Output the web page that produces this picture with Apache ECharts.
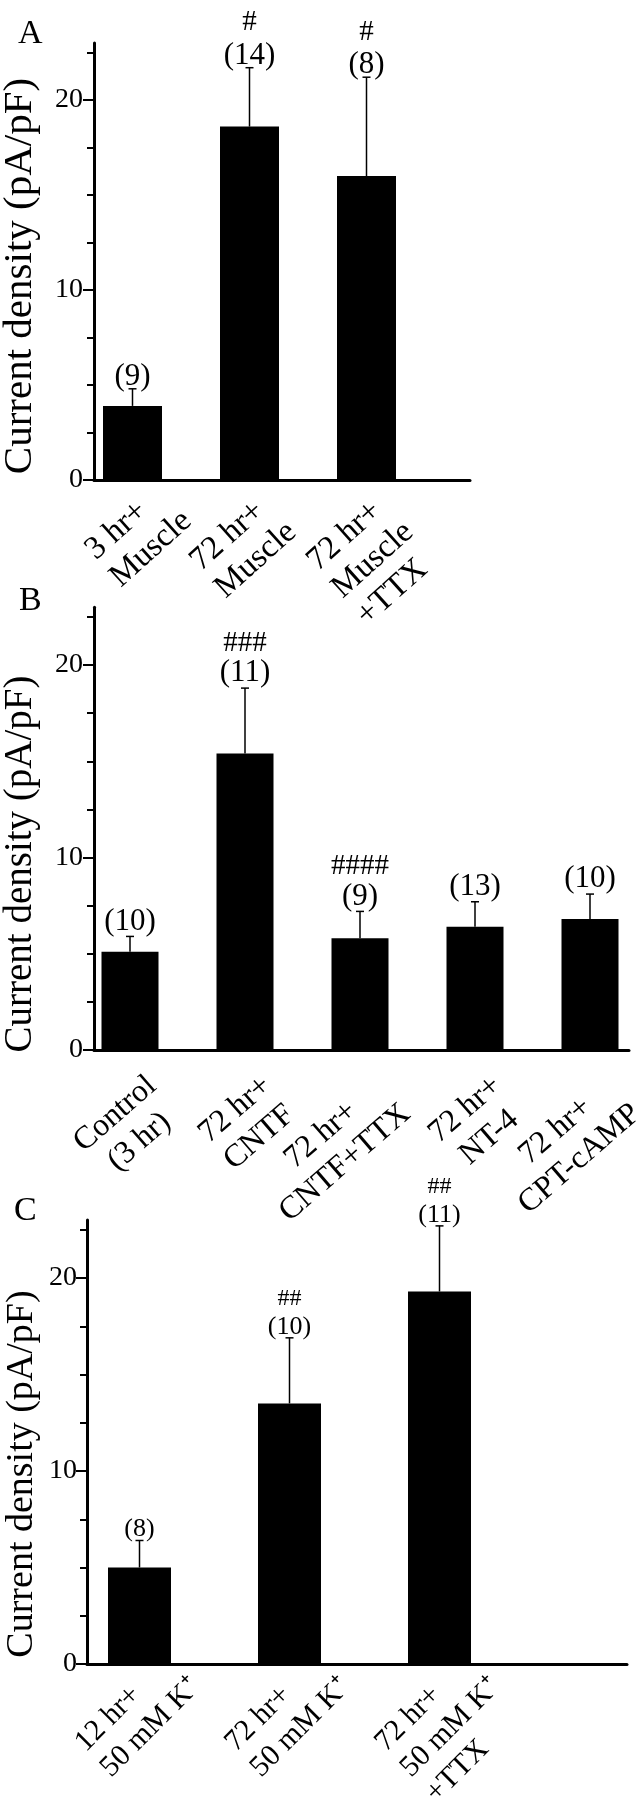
<!DOCTYPE html>
<html>
<head>
<meta charset="utf-8">
<script src="https://cdn.jsdelivr.net/npm/echarts@6/dist/echarts.min.js"></script>
<style>
  html, body { margin: 0; padding: 0; background: #fff; }
  #chart { width: 638px; height: 1800px; }
</style>
</head>
<body>
<div id="chart"></div>
<script>
// Panel A
const catsA = ['3 hr+\nMuscle', '72 hr+\nMuscle', '72 hr+\nMuscle\n+TTX'];
const meanA = [3.9, 18.6, 16.0];
const semA = [0.9, 3.1, 5.2];
const nA = [9, 14, 8];
const sigA = ['', '#', '#'];

// Panel B
const catsB = ['Control\n(3 hr)', '72 hr+\nCNTF', '72 hr+\nCNTF+TTX', '72 hr+\nNT-4', '72 hr+\nCPT-cAMP'];
const meanB = [5.1, 15.4, 5.8, 6.4, 6.8];
const semB = [0.8, 3.4, 1.4, 1.3, 1.3];
const nB = [10, 11, 9, 13, 10];
const sigB = ['', '###', '####', '', ''];

// Panel C
const catsC = ['12 hr+\n50 mM K\u207A', '72 hr+\n50 mM K\u207A', '72 hr+\n50 mM K\u207A\n+TTX'];
const meanC = [5.0, 13.5, 19.3];
const semC = [1.4, 3.4, 3.4];
const nC = [8, 10, 11];
const sigC = ['', '##', '##'];

// shared y axis
const yMax = 23;
const yMajor = [0, 10, 20];
const yMinor = [2.5, 5, 7.5, 12.5, 15, 17.5, 22.5];
const yName = 'Current density (pA/pF)';

const FONT = '"Liberation Serif", "Times New Roman", serif';

// layout of each panel (pixels)
const panels = [
  { letter: 'A', cats: catsA, mean: meanA, sem: semA, n: nA, sig: sigA,
    letterPos: [13, 12], left: 94, right: 470, zeroY: 480, unit: 19,
    firstX: 132.5, step: 117, barWidth: 59,
    rotate: 42, labelMargin: 13, labelSize: 33, labelLine: 1.12, labelShift: -2, lineAlign: 'left',
    nSize: 31, sigSize: 29, nLift: 12, sigGap: 33, tickSize: 28, tickMargin: 11,
    nameSize: 41, namePos: [20, 276] },
  { letter: 'B', cats: catsB, mean: meanB, sem: semB, n: nB, sig: sigB,
    letterPos: [14, 579], left: 94, right: 629, zeroY: 1050, unit: 19.25,
    firstX: 130, step: 115, barWidth: 57,
    rotate: 41, labelMargin: 18, labelSize: 32, labelLine: 1.15, labelShift: 10, lineAlign: 'center',
    nSize: 31, sigSize: 29, nLift: 15, sigGap: 30, tickSize: 28, tickMargin: 11,
    nameSize: 39, namePos: [21, 864] },
  { letter: 'C', cats: catsC, mean: meanC, sem: semC, n: nC, sig: sigC,
    letterPos: [9, 1189], left: 87, right: 627, zeroY: 1664, unit: 19.3,
    firstX: 139.5, step: 150, barWidth: 63,
    rotate: 45, labelMargin: 14, labelSize: 30, labelLine: 1.2, labelShift: -16, lineAlign: 'left',
    nSize: 26, sigSize: 24, nLift: 11, sigGap: 28, tickSize: 28, tickMargin: 10,
    nameSize: 38, namePos: [22, 1474] }
];

const measureCtx = document.createElement('canvas').getContext('2d');
const textWidth = (str, size) => {
  measureCtx.font = size + 'px ' + FONT;
  return measureCtx.measureText(str).width;
};

const chart = echarts.init(document.getElementById('chart'));

const option = {
  animation: false,
  backgroundColor: '#fff',
  title: [],
  graphic: [],
  grid: [],
  xAxis: [],
  yAxis: [],
  series: []
};

panels.forEach((p, k) => {
  const height = yMax * p.unit;
  const top = p.zeroY - height;

  // 'left': label hangs from the end of its first line, other lines start-aligned
  const rich = {};
  p.cats.forEach((c, i) => {
    const style = {
      align: p.lineAlign,
      fontSize: p.labelSize,
      fontFamily: FONT,
      lineHeight: p.labelSize * p.labelLine,
      color: '#000'
    };
    if (p.lineAlign === 'left') style.width = textWidth(c.split('\n')[0], p.labelSize);
    rich['w' + i] = style;
  });

  option.title.push({
    text: p.letter,
    left: p.letterPos[0],
    top: p.letterPos[1],
    textStyle: { fontFamily: FONT, fontSize: 34, fontWeight: 'normal', color: '#000' }
  });

  // y axis title, sits low beside the axis like in the figure
  option.graphic.push({
    type: 'text',
    x: p.namePos[0],
    y: p.namePos[1],
    rotation: Math.PI / 2,
    style: {
      text: yName,
      font: p.nameSize + 'px ' + FONT,
      fill: '#000',
      align: 'center',
      verticalAlign: 'middle'
    }
  });

  option.grid.push({
    left: p.left,
    top: top,
    width: p.right - p.left,
    height: height,
    outerBoundsMode: 'none'
  });

  option.xAxis.push({
    type: 'value',
    gridIndex: k,
    min: 1 - (p.firstX - p.left) / p.step,
    max: 1 + (p.right - p.firstX) / p.step,
    axisLine: { show: true, onZero: false, lineStyle: { color: '#000', width: 3 } },
    axisTick: { show: false },
    splitLine: { show: false },
    axisLabel: {
      customValues: p.cats.map((_, i) => i + 1 + p.labelShift / p.step),
      rotate: p.rotate,
      margin: p.labelMargin,
      verticalAlign: 'top',
      overflow: 'none',
      formatter: (v) => {
        const i = Math.round(v) - 1;
        return p.cats[i].split('\n').map(l => '{w' + i + '|' + l + '}').join('\n');
      },
      rich: rich
    }
  });

  // major ticks + labels
  option.yAxis.push({
    type: 'value',
    gridIndex: k,
    position: 'left',
    min: 0,
    max: yMax,
    axisLine: { show: true, lineStyle: { color: '#000', width: 3 } },
    axisTick: { show: true, customValues: yMajor, length: 11, lineStyle: { color: '#000', width: 2 } },
    axisLabel: {
      customValues: yMajor,
      margin: p.tickMargin,
      fontFamily: FONT,
      fontSize: p.tickSize,
      color: '#000'
    },
    splitLine: { show: false }
  });

  // minor ticks
  option.yAxis.push({
    type: 'value',
    gridIndex: k,
    position: 'left',
    offset: 0,
    min: 0,
    max: yMax,
    axisLine: { show: false },
    axisTick: { show: true, customValues: yMinor, length: 7, lineStyle: { color: '#000', width: 2 } },
    axisLabel: { show: false },
    splitLine: { show: false }
  });

  option.series.push({
    type: 'bar',
    xAxisIndex: k,
    yAxisIndex: 2 * k,
    barWidth: p.barWidth,
    itemStyle: { color: '#000' },
    data: p.mean.map((v, i) => [i + 1, v])
  });

  // error bars with n and significance marks
  option.series.push({
    type: 'custom',
    xAxisIndex: k,
    yAxisIndex: 2 * k,
    clip: false,
    data: p.mean.map((v, i) => [i + 1, v, p.sem[i]]),
    renderItem: (params, api) => {
      const i = params.dataIndex;
      const x = api.value(0);
      const m = api.value(1);
      const e = api.value(2);
      const base = api.coord([x, m]);
      const tip = api.coord([x, m + e]);
      const children = [
        { type: 'line', shape: { x1: base[0], y1: base[1], x2: tip[0], y2: tip[1] },
          style: { stroke: '#000', lineWidth: 1.5 } },
        { type: 'line', shape: { x1: tip[0] - 4, y1: tip[1], x2: tip[0] + 4, y2: tip[1] },
          style: { stroke: '#000', lineWidth: 1.5 } },
        { type: 'text', x: tip[0], y: tip[1] - p.nLift,
          style: { text: '(' + p.n[i] + ')', fill: '#000', font: p.nSize + 'px ' + FONT,
                   align: 'center', verticalAlign: 'middle' } }
      ];
      if (p.sig[i]) {
        children.push({ type: 'text', x: tip[0], y: tip[1] - p.nLift - p.sigGap,
          style: { text: p.sig[i], fill: '#000', font: p.sigSize + 'px ' + FONT,
                   align: 'center', verticalAlign: 'middle' } });
      }
      return { type: 'group', children: children };
    }
  });
});

chart.setOption(option);
window.addEventListener('resize', () => chart.resize());
</script>
</body>
</html>
